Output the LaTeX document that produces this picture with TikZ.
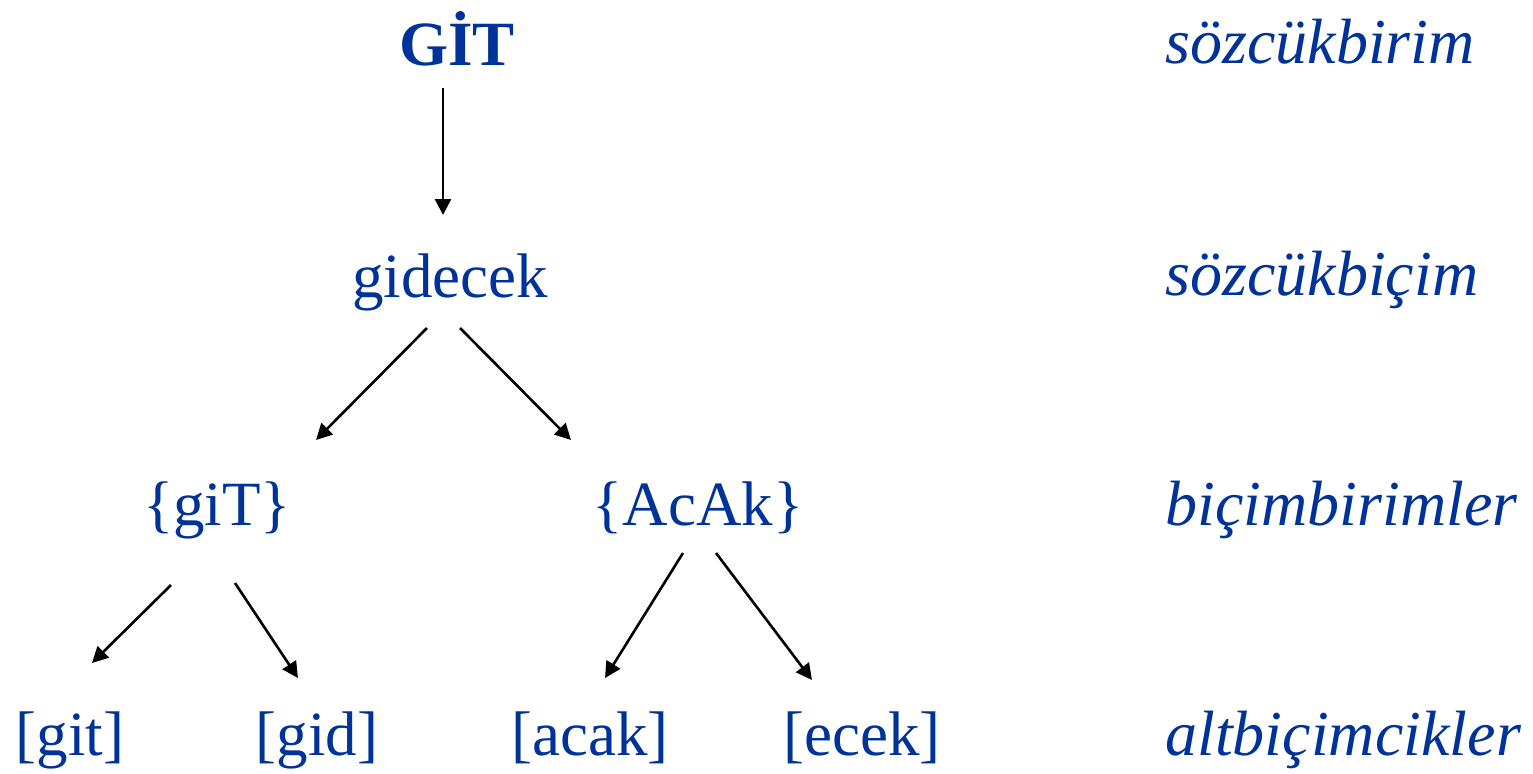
\documentclass[tikz,border=0pt]{standalone}
\usepackage{fontspec}
\setmainfont{Liberation Serif}
\usetikzlibrary{arrows.meta}
\definecolor{tblue}{HTML}{003399}
\begin{document}
\begin{tikzpicture}[x=0.5pt,y=-0.5pt,
  lbl/.style={inner sep=0pt,anchor=base,text=tblue,font=\fontsize{31.5}{36}\selectfont},
  lvl/.style={inner sep=0pt,anchor=base west,text=tblue,font=\fontsize{32}{36}\selectfont\itshape},
  arr/.style={-{Triangle[length=8pt,width=8pt]},line width=1.3pt,black}]
\useasboundingbox (0,0) rectangle (1533,773);
% tree nodes
\node[lbl,font=\fontsize{31.5}{36}\selectfont\bfseries] (GIT) at (457,65) {GİT};
\node[lbl] (gidecek) at (450,297) {gidecek};
\node[lbl] (giT) at (217,525) {\{giT\}};
\node[lbl] (AcAk) at (698,525) {\{AcAk\}};
\node[lbl] (git) at (70,755) {[git]};
\node[lbl] (gid) at (317,755) {[gid]};
\node[lbl] (acak) at (590,755) {[acak]};
\node[lbl] (ecek) at (862,755) {[ecek]};
% level labels
\node[lvl] (l1) at (1165,63) {sözcükbirim};
\node[lvl] (l2) at (1165,295) {sözcükbiçim};
\node[lvl] (l3) at (1165,525) {biçimbirimler};
\node[lvl] (l4) at (1165,755) {altbiçimcikler};
% arrows
\draw[arr] ([shift={(-14,23)}]GIT.base) -- ([shift={(-7,-82)}]gidecek.base);
\draw[arr] ([shift={(-23,31)}]gidecek.base) -- ([shift={(99,-85)}]giT.base);
\draw[arr] ([shift={(10,31)}]gidecek.base) -- ([shift={(-127,-85)}]AcAk.base);
\draw[arr] ([shift={(-46,60)}]giT.base) -- ([shift={(22,-92)}]git.base);
\draw[arr] ([shift={(18,58)}]giT.base) -- ([shift={(-19,-77)}]gid.base);
\draw[arr] ([shift={(-15,28)}]AcAk.base) -- ([shift={(15,-77)}]acak.base);
\draw[arr] ([shift={(18,28)}]AcAk.base) -- ([shift={(-50,-75)}]ecek.base);
\end{tikzpicture}
\end{document}
